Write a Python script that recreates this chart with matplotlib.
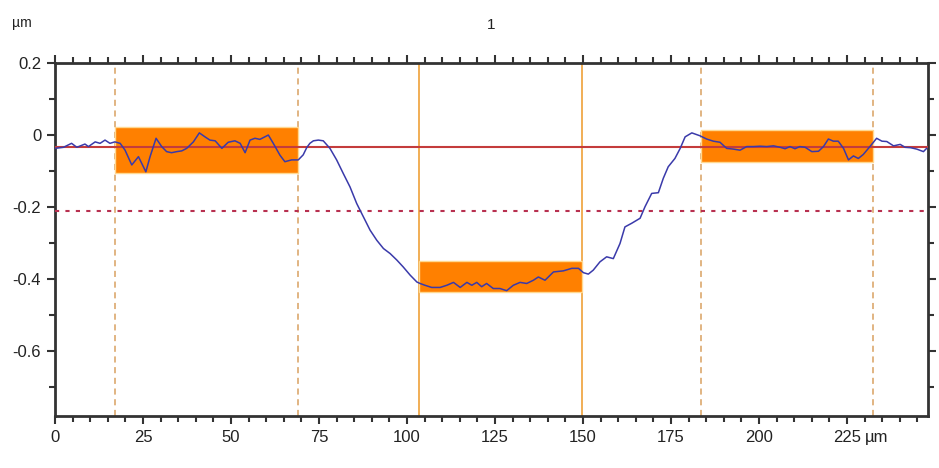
import matplotlib.pyplot as plt
from matplotlib.patches import Rectangle
from matplotlib.ticker import MultipleLocator

# profile (x in um, height in um)
profile_x = [0.0, 2.4, 4.7, 6.2, 8.5, 9.5, 11.4, 12.8, 14.2, 15.6, 17.0, 18.5, 19.9,
             21.8, 23.7, 25.8, 27.0, 28.7, 30.3, 31.7, 33.1, 34.6, 36.0, 37.4, 39.3,
             41.0, 42.6, 44.0, 45.5, 47.4, 49.2, 51.1, 52.6, 54.0, 55.4, 56.8, 58.2,
             60.6, 62.0, 63.9, 65.3, 67.2, 69.1, 70.5, 71.5, 72.4, 73.4, 74.8, 76.2,
             78.1, 80.0, 81.9, 83.8, 85.7, 87.6, 89.5, 91.4, 93.3, 95.2, 97.1, 98.9,
             100.9, 102.8, 103.7, 105.1, 107.0, 109.4, 111.3, 113.2, 115.1, 117.0,
             118.4, 119.8, 121.2, 122.6, 124.5, 126.4, 128.3, 130.2, 132.1, 134.0,
             135.9, 137.3, 139.2, 141.6, 144.4, 146.8, 148.7, 150.1, 151.5, 152.9,
             154.8, 156.7, 158.6, 160.5, 161.9, 163.8, 166.2, 167.6, 169.5, 171.4,
             172.8, 174.2, 176.1, 177.6, 179.0, 180.9, 183.2, 185.1, 187.0, 188.9,
             190.8, 192.7, 194.6, 196.5, 198.4, 200.3, 202.2, 204.1, 206.0, 207.4,
             208.8, 210.2, 211.6, 213.1, 215.0, 216.9, 218.3, 219.7, 221.1, 222.5,
             224.0, 225.4, 226.8, 228.2, 229.6, 231.5, 233.4, 234.9, 236.3, 238.2,
             240.1, 241.5, 243.0, 244.8, 246.7, 247.6]
profile_y = [-0.037, -0.034, -0.023, -0.034, -0.025, -0.032, -0.019, -0.023, -0.014,
             -0.023, -0.019, -0.023, -0.042, -0.083, -0.060, -0.102, -0.060, -0.009,
             -0.032, -0.046, -0.049, -0.046, -0.044, -0.037, -0.019, 0.006, -0.005,
             -0.014, -0.016, -0.037, -0.020, -0.016, -0.023, -0.049, -0.014, -0.009,
             -0.012, 0.000, -0.023, -0.056, -0.074, -0.069, -0.069, -0.055, -0.035,
             -0.023, -0.016, -0.014, -0.016, -0.037, -0.069, -0.107, -0.144, -0.190,
             -0.227, -0.264, -0.292, -0.315, -0.329, -0.347, -0.366, -0.389, -0.408,
             -0.412, -0.417, -0.423, -0.423, -0.417, -0.409, -0.423, -0.409, -0.417,
             -0.409, -0.421, -0.412, -0.426, -0.426, -0.432, -0.417, -0.409, -0.412,
             -0.403, -0.394, -0.403, -0.380, -0.377, -0.370, -0.370, -0.382, -0.386,
             -0.375, -0.352, -0.338, -0.343, -0.301, -0.255, -0.245, -0.231, -0.199,
             -0.162, -0.160, -0.120, -0.088, -0.065, -0.037, -0.005, 0.006, -0.002,
             -0.011, -0.017, -0.020, -0.037, -0.039, -0.042, -0.032, -0.032, -0.031,
             -0.032, -0.030, -0.034, -0.038, -0.032, -0.038, -0.032, -0.034, -0.046,
             -0.045, -0.032, -0.011, -0.017, -0.017, -0.037, -0.069, -0.058, -0.065,
             -0.054, -0.032, -0.009, -0.017, -0.018, -0.030, -0.026, -0.034, -0.035,
             -0.039, -0.046, -0.037]

# measuring regions (orange boxes)
box_x0 = [17.0, 103.4, 183.4]
box_x1 = [69.0, 149.7, 232.3]
box_top = [0.023, -0.349, 0.014]
box_bottom = [-0.106, -0.435, -0.074]

dashed_cursors = [17.0, 69.0, 183.4, 232.3]
solid_cursors = [103.4, 149.7]
ref_level = -0.034
depth_level = -0.211

x_ticks = [0, 25, 50, 75, 100, 125, 150, 175, 200, 225]
y_ticks = [0.2, 0.0, -0.2, -0.4, -0.6]
y_tick_labels = ['0.2', '0', '-0.2', '-0.4', '-0.6']

plt.rcParams['font.family'] = ['Liberation Sans Narrow', 'Liberation Sans', 'DejaVu Sans']

fig = plt.figure(figsize=(9.39, 4.68), dpi=100)
ax = fig.add_axes([0.0586, 0.111, 0.9297, 0.7544])

for x in dashed_cursors:
    ax.axvline(x, color='#d9a060', lw=1.1, ls=(0, (4, 3)), zorder=1)
for x in solid_cursors:
    ax.axvline(x, color='#f0a848', lw=1.3, zorder=1)

for x0, x1, top, bot in zip(box_x0, box_x1, box_top, box_bottom):
    ax.add_patch(Rectangle((x0, bot), x1 - x0, top - bot, facecolor='#ff8000',
                           edgecolor='#ffd890', lw=1.0, zorder=2))

ax.axhline(ref_level, color='#c43c3c', lw=1.5, zorder=3)
ax.axhline(depth_level, color='#b83050', lw=1.5, ls=(0, (2, 3)), zorder=3)

ax.plot(profile_x, profile_y, color='#3a3aaa', lw=1.1, zorder=4)

ax.set_xlim(0, 248)
ax.set_ylim(-0.78, 0.2)
ax.set_xticks(x_ticks)
ax.set_yticks(y_ticks)
ax.set_yticklabels(y_tick_labels)
ax.xaxis.set_minor_locator(MultipleLocator(5))
ax.yaxis.set_minor_locator(MultipleLocator(0.1))
ax.tick_params(which='both', direction='out', top=True, right=True,
               width=1.5, color='#333333', labelsize=12, labelcolor='#222222')
ax.tick_params(which='major', length=6, pad=4)
ax.tick_params(which='minor', length=4)
for s in ax.spines.values():
    s.set_linewidth(2)
    s.set_color('#333333')

# unit placed after the last x tick label
ax.annotate('µm', xy=(230, 0), xycoords=('data', 'axes fraction'),
            xytext=(0, -10), textcoords='offset points', fontsize=12,
            color='#222222', ha='left', va='top')

fig.text(0.023, 0.95, 'µm', fontsize=10, color='#222222', ha='center', va='center')
fig.text(0.5235, 0.947, '1', fontsize=11, color='#222222', ha='center', va='center')

fig.savefig('out.png', dpi=100)
